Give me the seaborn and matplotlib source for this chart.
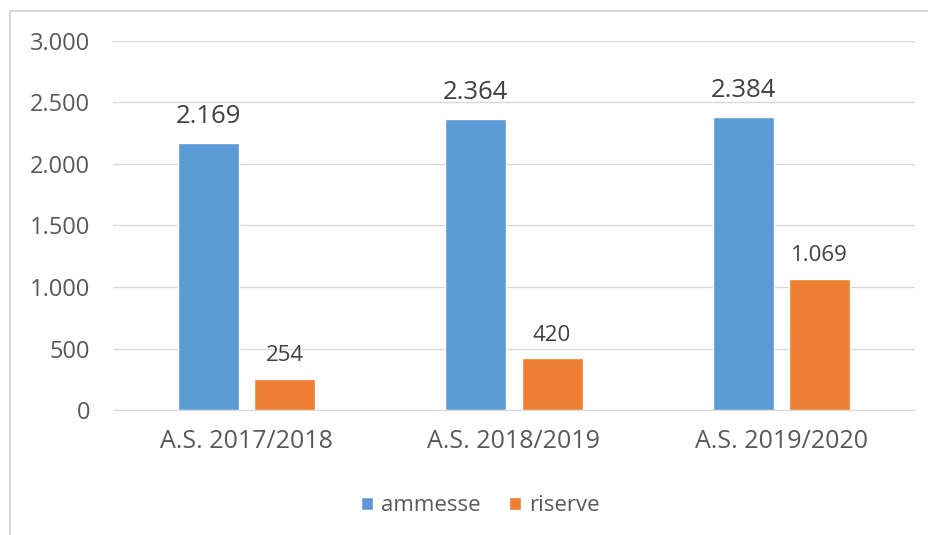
import pandas as pd
import matplotlib.pyplot as plt
import seaborn as sns
from matplotlib.patches import Rectangle
from matplotlib.ticker import FuncFormatter

# Data
anni = ["A.S. 2017/2018", "A.S. 2018/2019", "A.S. 2019/2020"]
ammesse = [2169, 2364, 2384]
riserve = [254, 420, 1069]

df = pd.DataFrame({
    "anno": anni * 2,
    "serie": ["ammesse"] * 3 + ["riserve"] * 3,
    "valore": ammesse + riserve,
})

def it_fmt(v):
    return f"{int(round(v)):,}".replace(",", ".")

sns.set_style("white")
plt.rcParams["font.family"] = ["Open Sans", "DejaVu Sans"]

fig = plt.figure(figsize=(9.29, 5.35), dpi=100)
ax = fig.add_axes([113 / 929, 1 - 410 / 535, (915 - 113) / 929, (410 - 41) / 535])

sns.barplot(
    data=df, x="anno", y="valore", hue="serie",
    palette={"ammesse": "#5B9BD5", "riserve": "#ED7D31"},
    width=0.57, gap=0.2, ax=ax, saturation=1, legend=True,
)

ax.set_ylim(0, 3000)
ax.set_yticks(range(0, 3001, 500))
ax.yaxis.set_major_formatter(FuncFormatter(lambda v, p: it_fmt(v)))
ax.grid(axis="y", color="#d9d9d9", linewidth=1)
ax.set_axisbelow(True)
for s in ["top", "right", "left"]:
    ax.spines[s].set_visible(False)
ax.spines["bottom"].set_color("#d9d9d9")
ax.tick_params(axis="both", length=0, colors="#595959")
ax.tick_params(axis="y", pad=16.5, labelsize=17)
ax.tick_params(axis="x", pad=14, labelsize=18)
ax.set_xlabel("")
ax.set_ylabel("")

# value labels
ax.bar_label(ax.containers[0], labels=[it_fmt(v) for v in ammesse],
             padding=10, fontsize=18.5, color="#404040")
ax.bar_label(ax.containers[1], labels=[it_fmt(v) for v in riserve],
             padding=9, fontsize=16, color="#404040")

leg = ax.legend(loc="center", bbox_to_anchor=(0.458, -0.26), ncol=2,
                frameon=False, fontsize=16, handlelength=0.55, handleheight=0.55,
                columnspacing=1.3, handletextpad=0.35)
for t in leg.get_texts():
    t.set_color("#595959")

# outer chart frame (only left and top edges are visible)
fig.patches.append(Rectangle((10 / 929, -0.05), 1.1, (535 - 11) / 535 + 0.05,
                             transform=fig.transFigure, fill=False,
                             edgecolor="#d0d0d0", linewidth=1.2))

fig.savefig("out.png", dpi=100)
